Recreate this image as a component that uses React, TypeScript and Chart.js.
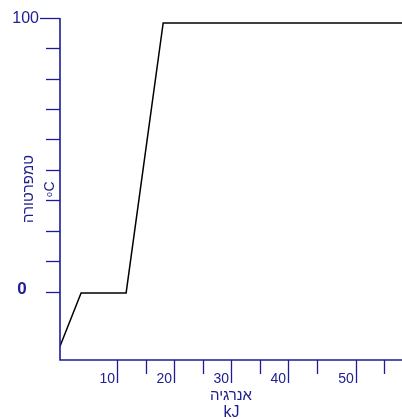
import React, { useEffect, useRef } from "react";
import { Chart, registerables } from "chart.js";

Chart.register(...registerables);

// ---- data ----
const energyKJ = [0, 3.7, 11.6, 18.1, 60];
const temperatureC = [-20, -0.5, -0.5, 98.2, 98.2];

const xMajorTicks = [10, 20, 30, 40, 51.9];
const xMajorLabels = ["10", "20", "30", "40", "50"];
const xMinorTicks = [15, 25, 35, 45, 56.8];

const yTicks = [0, 11.1, 22.2, 33.3, 44.4, 55.6, 66.7, 77.8, 88.9, 100];
const yLabelTop = "100";
const yLabelZero = "0";

const xTitle = "אנרגיה";
const xUnit = "kJ";
const yTitle = "טמפרטורה";

const AXIS = "#1c1c96";
const TEXT = "#202090";
const FONT = "'Liberation Sans', Arial, sans-serif";

const axesPlugin = {
  id: "handAxes",
  afterDraw(chart: any) {
    const { ctx, chartArea } = chart;
    const xs = chart.scales.x;
    const ys = chart.scales.y;
    const L = chartArea.left;
    const B = chartArea.bottom;
    ctx.save();
    // axis lines
    ctx.strokeStyle = AXIS;
    ctx.lineWidth = 1.6;
    ctx.beginPath();
    ctx.moveTo(L, chartArea.top);
    ctx.lineTo(L, B);
    ctx.lineTo(chartArea.right, B);
    ctx.stroke();

    // y ticks
    ctx.lineWidth = 1.3;
    yTicks.forEach((v, i) => {
      const py = Math.round(ys.getPixelForValue(v)) + 0.5;
      const len = i === yTicks.length - 1 ? 20 : 14;
      ctx.beginPath();
      ctx.moveTo(L - len, py);
      ctx.lineTo(L, py);
      ctx.stroke();
    });
    // x ticks
    xMajorTicks.forEach((v) => {
      const px = Math.round(xs.getPixelForValue(v)) + 0.5;
      ctx.beginPath();
      ctx.moveTo(px, B);
      ctx.lineTo(px, B + 23);
      ctx.stroke();
    });
    xMinorTicks.forEach((v) => {
      const px = Math.round(xs.getPixelForValue(v)) + 0.5;
      ctx.beginPath();
      ctx.moveTo(px, B);
      ctx.lineTo(px, B + 14);
      ctx.stroke();
    });

    // labels
    ctx.fillStyle = TEXT;
    ctx.font = `14px ${FONT}`;
    ctx.textAlign = "right";
    ctx.textBaseline = "alphabetic";
    xMajorTicks.forEach((v, i) => {
      const px = xs.getPixelForValue(v);
      ctx.fillText(xMajorLabels[i], px - 2, B + 23);
    });

    ctx.font = `16px ${FONT}`;
    ctx.textAlign = "right";
    ctx.textBaseline = "middle";
    ctx.fillText(yLabelTop, L - 21, ys.getPixelForValue(100) + 0.5);
    ctx.font = `bold 17px ${FONT}`;
    ctx.textAlign = "center";
    ctx.fillText(yLabelZero, L - 38, ys.getPixelForValue(0) - 2);

    // x title
    const cx = (chartArea.left + chartArea.right) / 2 + 0;
    ctx.textBaseline = "alphabetic";
    ctx.font = `15px ${FONT}`;
    ctx.fillText(xTitle, 231, B + 40);
    ctx.font = `16px ${FONT}`;
    ctx.fillText(xUnit, 231.5, B + 57);

    // y title rotated
    ctx.save();
    ctx.translate(L - 27, 189);
    ctx.rotate(-Math.PI / 2);
    ctx.font = `15px ${FONT}`;
    ctx.textAlign = "center";
    ctx.fillText(yTitle, 0, 0);
    ctx.restore();

    // unit oC rotated
    ctx.save();
    ctx.translate(L - 6, 197);
    ctx.rotate(-Math.PI / 2);
    ctx.textAlign = "left";
    ctx.font = `9px ${FONT}`;
    ctx.fillText("o", 0, -2);
    const ow = ctx.measureText("o").width;
    ctx.font = `14px ${FONT}`;
    ctx.fillText("C", ow + 0.5, 0);
    ctx.restore();

    ctx.restore();
    void cx;
  },
};

export default function App() {
  const ref = useRef<HTMLCanvasElement | null>(null);
  useEffect(() => {
    if (!ref.current) return;
    const chart = new Chart(ref.current, {
      type: "line",
      data: {
        datasets: [
          {
            data: energyKJ.map((x, i) => ({ x, y: temperatureC[i] })),
            borderColor: "#000000",
            borderWidth: 1.5,
            pointRadius: 0,
            tension: 0,
            fill: false,
          },
        ],
      },
      options: {
        animation: false,
        responsive: false,
        devicePixelRatio: 1,
        layout: { padding: { left: 60, top: 18, right: 0, bottom: 59 } },
        plugins: { legend: { display: false }, tooltip: { enabled: false } },
        scales: {
          x: { type: "linear", min: 0, max: 60, display: false },
          y: { type: "linear", min: -25, max: 100, display: false },
        },
      },
      plugins: [axesPlugin],
    });
    return () => chart.destroy();
  }, []);
  return (
    <div style={{ position: "fixed", left: 0, top: 0, width: 402, height: 419, background: "#fff" }}>
      <canvas ref={ref} width={402} height={419} style={{ display: "block" }} />
    </div>
  );
}
